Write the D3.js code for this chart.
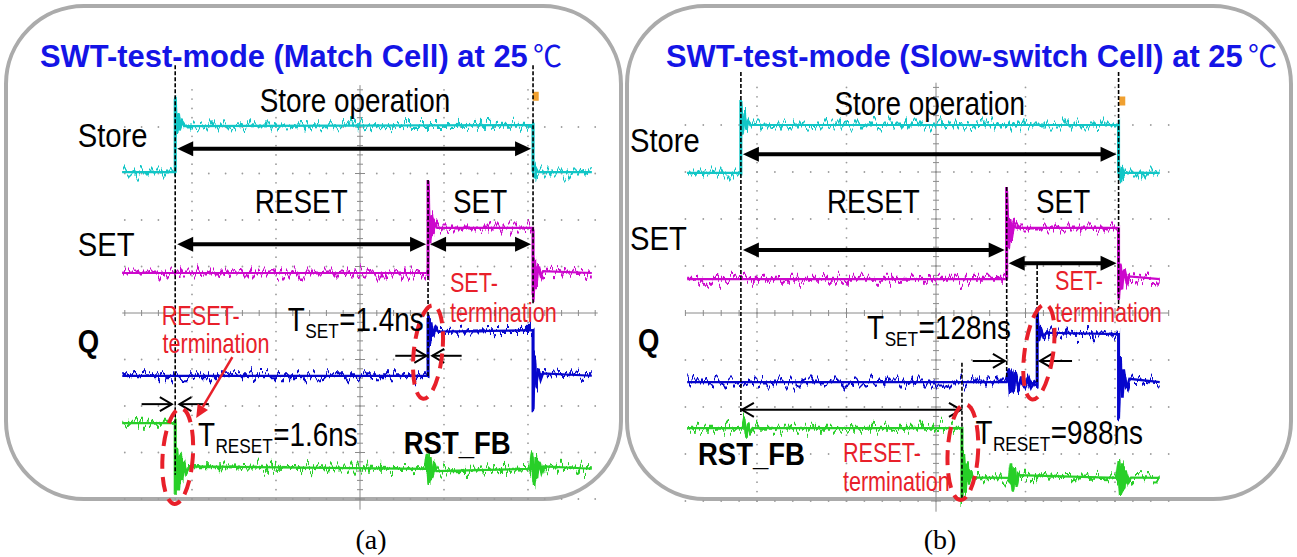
<!DOCTYPE html>
<meta charset="utf-8">
<script src="https://cdn.jsdelivr.net/npm/d3@7"></script>
<style>
  body { margin: 0; background: #fff; }
  text { font-family: "Liberation Sans Narrow", "Arial Narrow", "Liberation Sans", sans-serif; }
</style>
<div id="chart"></div>
<script>

// all values are in scope divisions: t = horizontal div from screen centre, v = vertical div from centre
var panelTitles = ["SWT-test-mode (Match Cell) at 25", "SWT-test-mode (Slow-switch Cell) at 25"];
var panelTags = ["(a)", "(b)"];
var channelNames = ["Store", "SET", "Q", "RST_FB"];

// (a) match cell traces  [t, v]
var storeA = [[-2.83,3.03],[-2.2,3.03],[-2.2,4.65],[-2.18,3.85],[-2.16,4.3],[-2.14,3.95],[-2.12,4.1],[-2.09,4.02],[2.06,4.04],[2.06,3.03],[2.08,2.9],[2.1,3.1],[2.12,3.03],[2.76,3.03]];
var setA = [[-2.83,0.86],[0.81,0.86],[0.81,2.86],[0.83,1.5],[0.85,2.1],[0.87,1.7],[0.89,1.9],[0.92,1.83],[2.06,1.83],[2.06,0.28],[2.08,1.1],[2.1,0.6],[2.12,1.0],[2.15,0.8],[2.18,0.9],[2.76,0.86]];
var qA = [[-2.83,-1.35],[0.81,-1.35],[0.81,-0.15],[0.83,-0.6],[0.85,-0.2],[0.87,-0.5],[0.9,-0.3],[0.93,-0.4],[2.06,-0.37],[2.06,-2.09],[2.08,-1.0],[2.1,-1.6],[2.12,-1.2],[2.15,-1.45],[2.18,-1.3],[2.76,-1.35]];
var rstA = [[-2.83,-2.37],[-2.2,-2.37],[-2.2,-3.91],[-2.18,-2.9],[-2.16,-3.75],[-2.14,-3.05],[-2.12,-3.55],[-2.1,-3.2],[-2.07,-3.45],[-2.03,-3.3],[0.78,-3.35],[0.8,-3.05],[0.82,-3.65],[0.84,-3.1],[0.86,-3.55],[0.88,-3.25],[0.91,-3.4],[2.03,-3.35],[2.05,-3.0],[2.07,-3.7],[2.09,-3.1],[2.11,-3.55],[2.13,-3.2],[2.16,-3.45],[2.19,-3.3],[2.76,-3.35]];

// (b) slow-switch cell traces
var storeB = [[-2.78,2.98],[-2.18,2.98],[-2.18,4.53],[-2.16,3.8],[-2.14,4.25],[-2.12,3.9],[-2.1,4.08],[-2.07,4.0],[2.04,4.0],[2.04,2.98],[2.06,2.85],[2.08,3.1],[2.1,2.98],[2.5,2.98]];
var setB = [[-2.78,0.72],[0.79,0.72],[0.79,2.68],[0.81,1.4],[0.83,2.0],[0.85,1.6],[0.87,1.85],[0.9,1.81],[2.04,1.81],[2.04,0.28],[2.06,1.05],[2.08,0.5],[2.1,0.9],[2.13,0.65],[2.16,0.78],[2.5,0.72]];
var qB = [[-2.78,-1.47],[0.79,-1.47],[0.81,-1.2],[0.83,-1.7],[0.85,-1.25],[0.87,-1.65],[0.89,-1.3],[0.92,-1.6],[0.95,-1.35],[0.98,-1.55],[1.02,-1.4],[1.06,-1.6],[1.1,-1.45],[1.13,-1.5],[1.13,0.0],[1.15,-0.6],[1.17,-0.3],[1.2,-0.5],[1.23,-0.42],[2.04,-0.45],[2.04,-2.26],[2.06,-1.0],[2.08,-1.8],[2.1,-1.2],[2.13,-1.6],[2.16,-1.4],[2.5,-1.47]];
var rstB = [[-2.78,-2.45],[-2.16,-2.45],[-2.14,-2.25],[-2.12,-2.65],[-2.1,-2.35],[-2.08,-2.55],[-2.05,-2.45],[0.29,-2.45],[0.29,-3.98],[0.31,-3.0],[0.33,-3.8],[0.35,-3.2],[0.37,-3.65],[0.39,-3.35],[0.42,-3.55],[0.46,-3.5],[0.82,-3.51],[0.84,-3.2],[0.86,-3.8],[0.88,-3.3],[0.9,-3.7],[0.92,-3.45],[2.02,-3.51],[2.04,-3.15],[2.06,-3.85],[2.08,-3.2],[2.1,-3.75],[2.12,-3.35],[2.15,-3.6],[2.18,-3.5],[2.5,-3.51]];

// dashed markers [t, vTop, vBottom]
var dashA = [[-2.2,5.33,-3.48],[2.06,5.33,0.17],[0.81,2.86,-1.4]];
var dashB = [[-2.18,5.13,-2.17],[2.04,5.13,0.09],[0.79,2.68,-1.36],[1.13,1.02,-1.47],[0.29,-1.06,-3.94]];
// thick double arrows [t1, t2, v]
var spanA = [[-2.2,2.06,3.53],[-2.2,0.81,1.48],[0.81,2.06,1.48]];
var spanB = [[-2.18,2.04,3.38],[-2.18,0.79,1.34],[0.79,2.04,1.06]];
// thin double arrows
var thinSpanA = [];
var thinSpanB = [[-2.18,0.29,-2.06]];
// thin single arrows [tFrom, tTo, v]
var pointA = [[0.42,0.79,-0.92],[1.21,0.86,-0.92],[-2.6,-2.24,-1.96],[-1.8,-2.15,-1.96]];
var pointB = [[0.41,0.77,-1.02],[1.52,1.16,-1.02]];
// red dashed ovals [t, v, radius t, radius v, tilt deg]
var ovalA = [[0.81,-0.84,0.17,1.01,6],[-2.17,-3.08,0.18,1.03,4]];
var ovalB = [[1.15,-0.83,0.16,1.02,8],[0.3,-2.96,0.17,1.02,3]];
// red pointer [tFrom, vFrom, tTo, vTo]
var pointerA = [[-1.52,-0.95,-1.95,-2.26]];
var pointerB = [];
// centred annotations [text, t, v]
var noteA = [["Store operation",-0.06,4.32],["RESET",-0.7,2.15],["SET",1.43,2.15]];
var noteB = [["Store operation",-0.07,4.21],["RESET",-0.7,2.13],["SET",1.42,2.13]];
// channel labels, same order as channelNames [t, v]
var chanA = [[-3.36,3.57],[-3.36,1.23],[-3.36,-0.84],[0.52,-3.03]];
var chanB = [[-3.42,3.43],[-3.42,1.34],[-3.33,-0.81],[-2.66,-3.23]];
// timing labels [subscript, value, t, v]
var timeA = [["SET","=1.4ns",-0.86,-0.39],["RESET","=1.6ns",-1.93,-2.86]];
var timeB = [["SET","=128ns",-0.77,-0.55],["RESET","=988ns",0.44,-2.79]];
// red notes [text, t, v]
var redA = [["SET-",1.07,0.45],["termination",1.07,-0.19],["RESET-",-2.36,-0.26],["termination",-2.35,-0.86]];
var redB = [["SET-",1.33,0.49],["termination",1.33,-0.19],["RESET-",-1.04,-3.17],["termination",-1.04,-3.78]];
// trigger marker [t, v]
var trigA = [2.08, 4.65];
var trigB = [2.07, 4.5];

var colors = {
  trace: ["#12c6c6", "#cc08cc", "#0606cc", "#28cf28"],
  title: "#1414e6",
  red: "#e8202a",
  grid: "#9c9c9c",
  frame: "#ababab"
};
var narrow = 0.82;   // the figure uses a condensed face

var W = 1297, H = 557;
var svg = d3.select("#chart").append("svg")
  .attr("width", W).attr("height", H);

// noise texture for the scope traces
var defs = svg.append("defs");
[11, 23, 37, 41].forEach(function(seed, i) {
  var f = defs.append("filter").attr("id", "jit" + i)
    .attr("filterUnits", "userSpaceOnUse")
    .attr("x", 0).attr("y", 0).attr("width", W).attr("height", H)
    .attr("color-interpolation-filters", "sRGB");
  f.append("feTurbulence").attr("type", "fractalNoise")
    .attr("baseFrequency", "0.3 0.03").attr("numOctaves", 2).attr("seed", seed).attr("result", "n");
  var ct = f.append("feComponentTransfer").attr("in", "n").attr("result", "m");
  ct.append("feFuncR").attr("type", "linear").attr("slope", 0).attr("intercept", 0.5);
  ct.append("feFuncA").attr("type", "linear").attr("slope", 0).attr("intercept", 1);
  f.append("feDisplacementMap").attr("in", "SourceGraphic").attr("in2", "m")
    .attr("scale", 26).attr("xChannelSelector", "R").attr("yChannelSelector", "G");
});

var panels = [
  {
    frame: [6, 6, 615, 493],
    x: d3.scaleLinear().domain([0, 1]).range([360, 444]),
    y: d3.scaleLinear().domain([0, 1]).range([313, 266.5]),
    gridT: [-2.83, 2.83], gridV: [-4.1, 4.9],
    traces: [storeA, setA, qA, rstA],
    dash: dashA, span: spanA, thinSpan: thinSpanA, point: pointA, oval: ovalA, pointer: pointerA,
    note: noteA, chan: chanA, time: timeA, red: redA, trig: trigA,
    titleX: 40, titleW: 488, tagX: 371
  },
  {
    frame: [627, 6, 664, 493],
    x: d3.scaleLinear().domain([0, 1]).range([936, 1025.5]),
    y: d3.scaleLinear().domain([0, 1]).range([313, 266]),
    gridT: [-2.8, 2.6], gridV: [-4.1, 4.9],
    traces: [storeB, setB, qB, rstB],
    dash: dashB, span: spanB, thinSpan: thinSpanB, point: pointB, oval: ovalB, pointer: pointerB,
    note: noteB, chan: chanB, time: timeB, red: redB, trig: trigB,
    titleX: 666, titleW: 577, tagX: 940
  }
];

function steps(lo, hi, st) {
  var out = [];
  var k0 = Math.ceil(lo / st - 1e-6), k1 = Math.floor(hi / st + 1e-6);
  for (var k = k0; k <= k1; k++) out.push(+(k * st).toFixed(3));
  return out;
}

// squeeze text horizontally like a narrow face (scale about its anchor point)
function condense(sel, k) {
  sel.each(function() {
    var s = d3.select(this);
    var px = +s.attr("x"), py = +s.attr("y");
    s.attr("x", 0).attr("y", 0)
      .attr("transform", "translate(" + px + "," + py + ") scale(" + k + ",1)");
  });
}

// filled arrow head at (x, y) pointing in direction dir (+1 right, -1 left)
function headPath(x, y, dir, len, half) {
  return "M" + x + "," + y + "L" + (x - dir * len) + "," + (y - half) + "L" + (x - dir * len) + "," + (y + half) + "Z";
}

panels.forEach(function(p, pi) {
  var g = svg.append("g");
  var x = p.x, y = p.y;

  // rounded frame
  g.append("rect")
    .attr("x", p.frame[0]).attr("y", p.frame[1])
    .attr("width", p.frame[2]).attr("height", p.frame[3])
    .attr("rx", 78).attr("ry", 78)
    .attr("fill", "none").attr("stroke", colors.frame).attr("stroke-width", 4);

  // scope graticule
  var grid = g.append("g");
  var majT = steps(p.gridT[0], p.gridT[1], 1).filter(function(t) { return t !== 0; });
  var majV = steps(p.gridV[0], p.gridV[1], 1).filter(function(v) { return v !== 0; });
  var minT = steps(p.gridT[0], p.gridT[1], 0.2);
  var minV = steps(p.gridV[0], p.gridV[1], 0.2);
  majT.forEach(function(t) {
    grid.selectAll(null).data(minV).enter().append("circle")
      .attr("cx", x(t)).attr("cy", function(v) { return y(v); })
      .attr("r", 0.9).attr("fill", colors.grid);
  });
  majV.forEach(function(v) {
    grid.selectAll(null).data(minT).enter().append("circle")
      .attr("cx", function(t) { return x(t); }).attr("cy", y(v))
      .attr("r", 0.9).attr("fill", colors.grid);
  });
  // centre axes with ticks
  grid.append("line").attr("x1", x(0)).attr("x2", x(0))
    .attr("y1", y(p.gridV[1])).attr("y2", y(p.gridV[0]) + 6)
    .attr("stroke", "#8a8a8a").attr("stroke-width", 1);
  grid.append("line").attr("y1", y(0)).attr("y2", y(0))
    .attr("x1", x(p.gridT[0])).attr("x2", x(p.gridT[1]))
    .attr("stroke", "#8a8a8a").attr("stroke-width", 1);
  grid.selectAll(null).data(minV).enter().append("line")
    .attr("x1", function(v) { return x(0) - (Math.abs(v % 1) < 1e-6 ? 5 : 3); })
    .attr("x2", function(v) { return x(0) + (Math.abs(v % 1) < 1e-6 ? 5 : 3); })
    .attr("y1", function(v) { return y(v); }).attr("y2", function(v) { return y(v); })
    .attr("stroke", "#8a8a8a").attr("stroke-width", 1);
  grid.selectAll(null).data(minT).enter().append("line")
    .attr("y1", function(t) { return y(0) - (Math.abs(t % 1) < 1e-6 ? 5 : 3); })
    .attr("y2", function(t) { return y(0) + (Math.abs(t % 1) < 1e-6 ? 5 : 3); })
    .attr("x1", function(t) { return x(t); }).attr("x2", function(t) { return x(t); })
    .attr("stroke", "#8a8a8a").attr("stroke-width", 1);

  // traces: a clean core plus a jittered copy for the scope noise
  var line = d3.line().x(function(d) { return x(d[0]); }).y(function(d) { return y(d[1]); });
  p.traces.forEach(function(tr, i) {
    g.append("path").attr("d", line(tr))
      .attr("fill", "none").attr("stroke", colors.trace[i]).attr("stroke-width", 2.2);
    g.append("path").attr("d", line(tr))
      .attr("fill", "none").attr("stroke", colors.trace[i]).attr("stroke-width", 3)
      .attr("filter", "url(#jit" + i + ")");
  });

  // trigger marker
  g.append("rect").attr("x", x(p.trig[0]) - 2).attr("y", y(p.trig[1]) - 5)
    .attr("width", 6).attr("height", 9).attr("fill", "#f0a030");

  // dashed event markers
  g.selectAll(null).data(p.dash).enter().append("line")
    .attr("x1", function(d) { return x(d[0]); }).attr("x2", function(d) { return x(d[0]); })
    .attr("y1", function(d) { return y(d[1]); }).attr("y2", function(d) { return y(d[2]); })
    .attr("stroke", "#000").attr("stroke-width", 1.6).attr("stroke-dasharray", "4 2");

  // thick double arrows
  p.span.forEach(function(d) {
    var x1 = x(d[0]) + 2, x2 = x(d[1]) - 2, yy = y(d[2]);
    g.append("line").attr("x1", x1 + 10).attr("x2", x2 - 10).attr("y1", yy).attr("y2", yy)
      .attr("stroke", "#000").attr("stroke-width", 4);
    g.append("path").attr("d", headPath(x1, yy, -1, 16, 7.5)).attr("fill", "#000");
    g.append("path").attr("d", headPath(x2, yy, 1, 16, 7.5)).attr("fill", "#000");
  });

  // thin open arrows
  function openHead(xx, yy, dir) {
    return "M" + (xx - dir * 12) + "," + (yy - 7) + "L" + xx + "," + yy + "L" + (xx - dir * 12) + "," + (yy + 7);
  }
  p.thinSpan.forEach(function(d) {
    var x1 = x(d[0]) + 1, x2 = x(d[1]) - 1, yy = y(d[2]);
    g.append("line").attr("x1", x1).attr("x2", x2).attr("y1", yy).attr("y2", yy)
      .attr("stroke", "#000").attr("stroke-width", 2);
    g.append("path").attr("d", openHead(x1, yy, -1)).attr("fill", "none").attr("stroke", "#000").attr("stroke-width", 2);
    g.append("path").attr("d", openHead(x2, yy, 1)).attr("fill", "none").attr("stroke", "#000").attr("stroke-width", 2);
  });
  p.point.forEach(function(d) {
    var x1 = x(d[0]), x2 = x(d[1]), yy = y(d[2]);
    var dir = x2 > x1 ? 1 : -1;
    g.append("line").attr("x1", x1).attr("x2", x2).attr("y1", yy).attr("y2", yy)
      .attr("stroke", "#000").attr("stroke-width", 2);
    g.append("path").attr("d", openHead(x2, yy, dir)).attr("fill", "none").attr("stroke", "#000").attr("stroke-width", 2);
  });

  // red dashed ovals
  g.selectAll(null).data(p.oval).enter().append("ellipse")
    .attr("cx", 0).attr("cy", 0)
    .attr("rx", function(d) { return x(d[2]) - x(0); })
    .attr("ry", function(d) { return y(0) - y(d[3]); })
    .attr("transform", function(d) { return "translate(" + x(d[0]) + "," + y(d[1]) + ") rotate(" + d[4] + ")"; })
    .attr("fill", "none").attr("stroke", colors.red).attr("stroke-width", 4)
    .attr("stroke-dasharray", "15 8");

  // red pointer
  p.pointer.forEach(function(d) {
    var x1 = x(d[0]), y1 = y(d[1]), x2 = x(d[2]), y2 = y(d[3]);
    var ang = Math.atan2(y2 - y1, x2 - x1), len = 13, half = 6;
    var bx = x2 - len * Math.cos(ang), by = y2 - len * Math.sin(ang);
    g.append("line").attr("x1", x1).attr("y1", y1).attr("x2", bx).attr("y2", by)
      .attr("stroke", colors.red).attr("stroke-width", 2.5);
    g.append("path").attr("fill", colors.red).attr("d",
      "M" + x2 + "," + y2 +
      "L" + (bx + half * Math.sin(ang)) + "," + (by - half * Math.cos(ang)) +
      "L" + (bx - half * Math.sin(ang)) + "," + (by + half * Math.cos(ang)) + "Z");
  });

  // title, squeezed to the reference width, and the degree sign in a lighter CJK face
  var title = g.append("text")
    .attr("x", p.titleX).attr("y", 67)
    .style("font-size", "32px").style("font-weight", "bold").attr("fill", colors.title)
    .text(panelTitles[pi]);
  title.call(condense, p.titleW / title.node().getComputedTextLength());
  g.append("text")
    .attr("x", p.titleX + p.titleW + 5).attr("y", 67)
    .style("font-family", "'Noto Sans CJK SC', 'DejaVu Sans', sans-serif")
    .style("font-size", "29px").attr("fill", colors.title)
    .text("\u2103");

  // centred notes
  g.selectAll(null).data(p.note).enter().append("text")
    .attr("x", function(d) { return x(d[1]); }).attr("y", function(d) { return y(d[2]); })
    .attr("text-anchor", "middle").style("font-size", "34px").attr("fill", "#000")
    .text(function(d) { return d[0]; })
    .call(condense, narrow);

  // channel labels
  g.selectAll(null).data(p.chan).enter().append("text")
    .attr("x", function(d) { return x(d[0]); }).attr("y", function(d) { return y(d[1]); })
    .style("font-size", function(d, i) { return i >= 2 ? "32px" : "34px"; })
    .style("font-weight", function(d, i) { return i >= 2 ? "bold" : "normal"; })
    .attr("fill", "#000")
    .text(function(d, i) { return channelNames[i]; })
    .call(condense, narrow + 0.04);

  // timing labels: T, subscript, value laid out one after another
  p.time.forEach(function(d) {
    var px = x(d[2]), py = y(d[3]);
    var parts = [["T", 34, 0], [d[0], 21, 7], [d[1], 34, 0]];
    parts.forEach(function(pt) {
      var t = g.append("text").attr("x", px).attr("y", py + pt[2])
        .style("font-size", pt[1] + "px").attr("fill", "#000").text(pt[0]);
      var w = t.node().getComputedTextLength() * narrow;
      t.call(condense, narrow);
      px += w + 0.5;
    });
  });

  // red notes
  g.selectAll(null).data(p.red).enter().append("text")
    .attr("x", function(d) { return x(d[1]); }).attr("y", function(d) { return y(d[2]); })
    .style("font-size", "27px").attr("fill", colors.red)
    .text(function(d) { return d[0]; })
    .call(condense, narrow - 0.02);

  // panel tag
  svg.append("text").attr("x", p.tagX).attr("y", 549)
    .attr("text-anchor", "middle")
    .style("font-family", "'Liberation Serif', 'Times New Roman', serif")
    .style("font-size", "28px").attr("fill", "#000")
    .text(panelTags[pi]);
});

</script>
